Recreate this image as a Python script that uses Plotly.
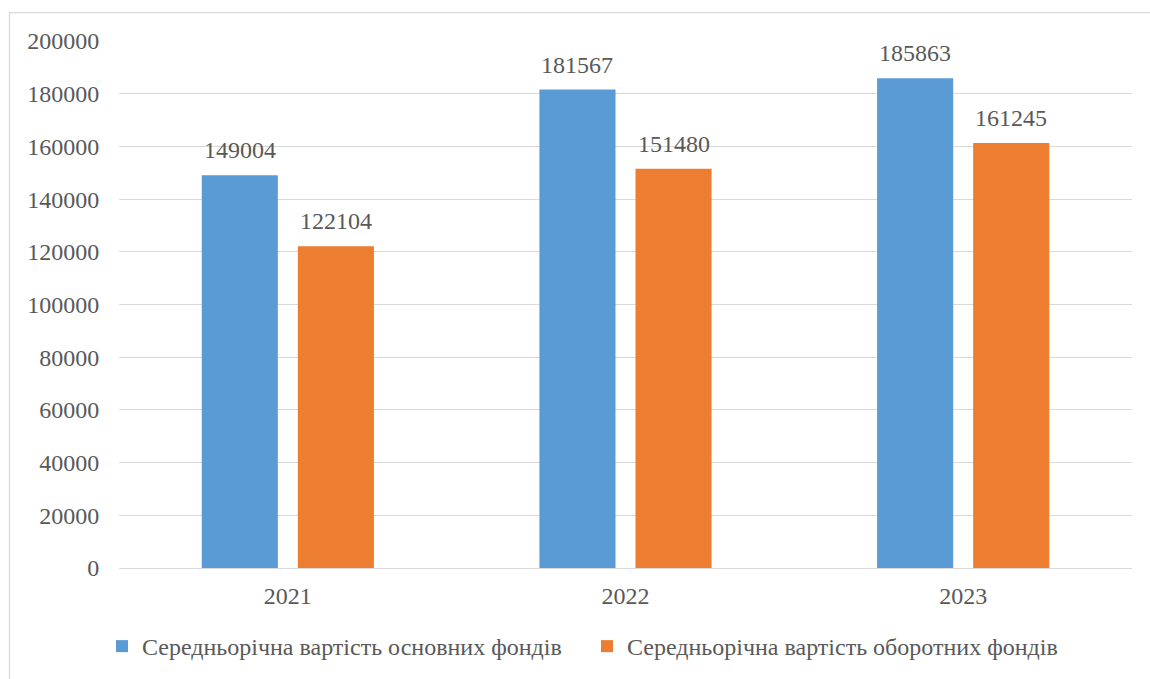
import plotly.graph_objects as go

years = ["2021", "2022", "2023"]
fixed_assets = [149004, 181567, 185863]
working_capital = [122104, 151480, 161245]
series_names = [
    "Середньорічна вартість основних фондів",
    "Середньорічна вартість оборотних фондів",
]
y_ticks = [0, 20000, 40000, 60000, 80000, 100000, 120000, 140000, 160000, 180000, 200000]

BLUE = "#5b9bd5"
ORANGE = "#ed7d31"
TEXT = "#595959"
GRID = "#d9d9d9"
FONT = "Liberation Serif, Times New Roman, serif"

BARGAP = 0.431
BARGROUPGAP = 0.208

series = [
    (series_names[0], fixed_assets, BLUE),
    (series_names[1], working_capital, ORANGE),
]

fig = go.Figure()
for name, vals, color in series:
    fig.add_trace(go.Bar(
        x=years, y=vals, name=name,
        marker=dict(color=color, line=dict(width=0)),
    ))

# Value labels above each bar, centred on the bar's slot within the group
slot = (1 - BARGAP) / len(series)
for idx, (name, vals, color) in enumerate(series):
    offset = (idx - (len(series) - 1) / 2) * slot
    for i, v in enumerate(vals):
        fig.add_annotation(
            x=i + offset, y=v, xref="x", yref="y", text=str(v), showarrow=False,
            yanchor="bottom", xanchor="center", yshift=10,
            font=dict(family=FONT, size=24, color=TEXT),
        )

# Outer chart frame
fig.add_shape(type="rect", xref="paper", yref="paper",
              x0=-0.1081, x1=1.05, y0=-0.25, y1=1.054,
              line=dict(color=GRID, width=1.3), fillcolor="rgba(0,0,0,0)", layer="below")

fig.update_layout(
    width=1150, height=679,
    margin=dict(l=119, r=18, t=41, b=111, autoexpand=False),
    paper_bgcolor="white", plot_bgcolor="white",
    barmode="group", bargap=BARGAP, bargroupgap=BARGROUPGAP,
    font=dict(family=FONT, size=24, color=TEXT),
    showlegend=True,
    legend=dict(orientation="h", x=-0.0168, xanchor="left", y=-0.149, yanchor="middle",
                font=dict(family=FONT, size=24, color=TEXT),
                entrywidth=440, entrywidthmode="pixels", itemwidth=30),
    xaxis=dict(showgrid=False, showline=True, linecolor=GRID, linewidth=1.3,
               ticks="outside", ticklen=6, tickcolor="rgba(0,0,0,0)",
               tickfont=dict(family=FONT, size=24, color=TEXT)),
    yaxis=dict(range=[0, 200000], tickvals=y_ticks, ticktext=[str(t) for t in y_ticks],
               showgrid=True, gridcolor=GRID, gridwidth=1.3, zeroline=False,
               showline=False, ticks="outside", ticklen=14, tickcolor="rgba(0,0,0,0)",
               tickfont=dict(family=FONT, size=24, color=TEXT)),
)

fig.write_html("out.html")
